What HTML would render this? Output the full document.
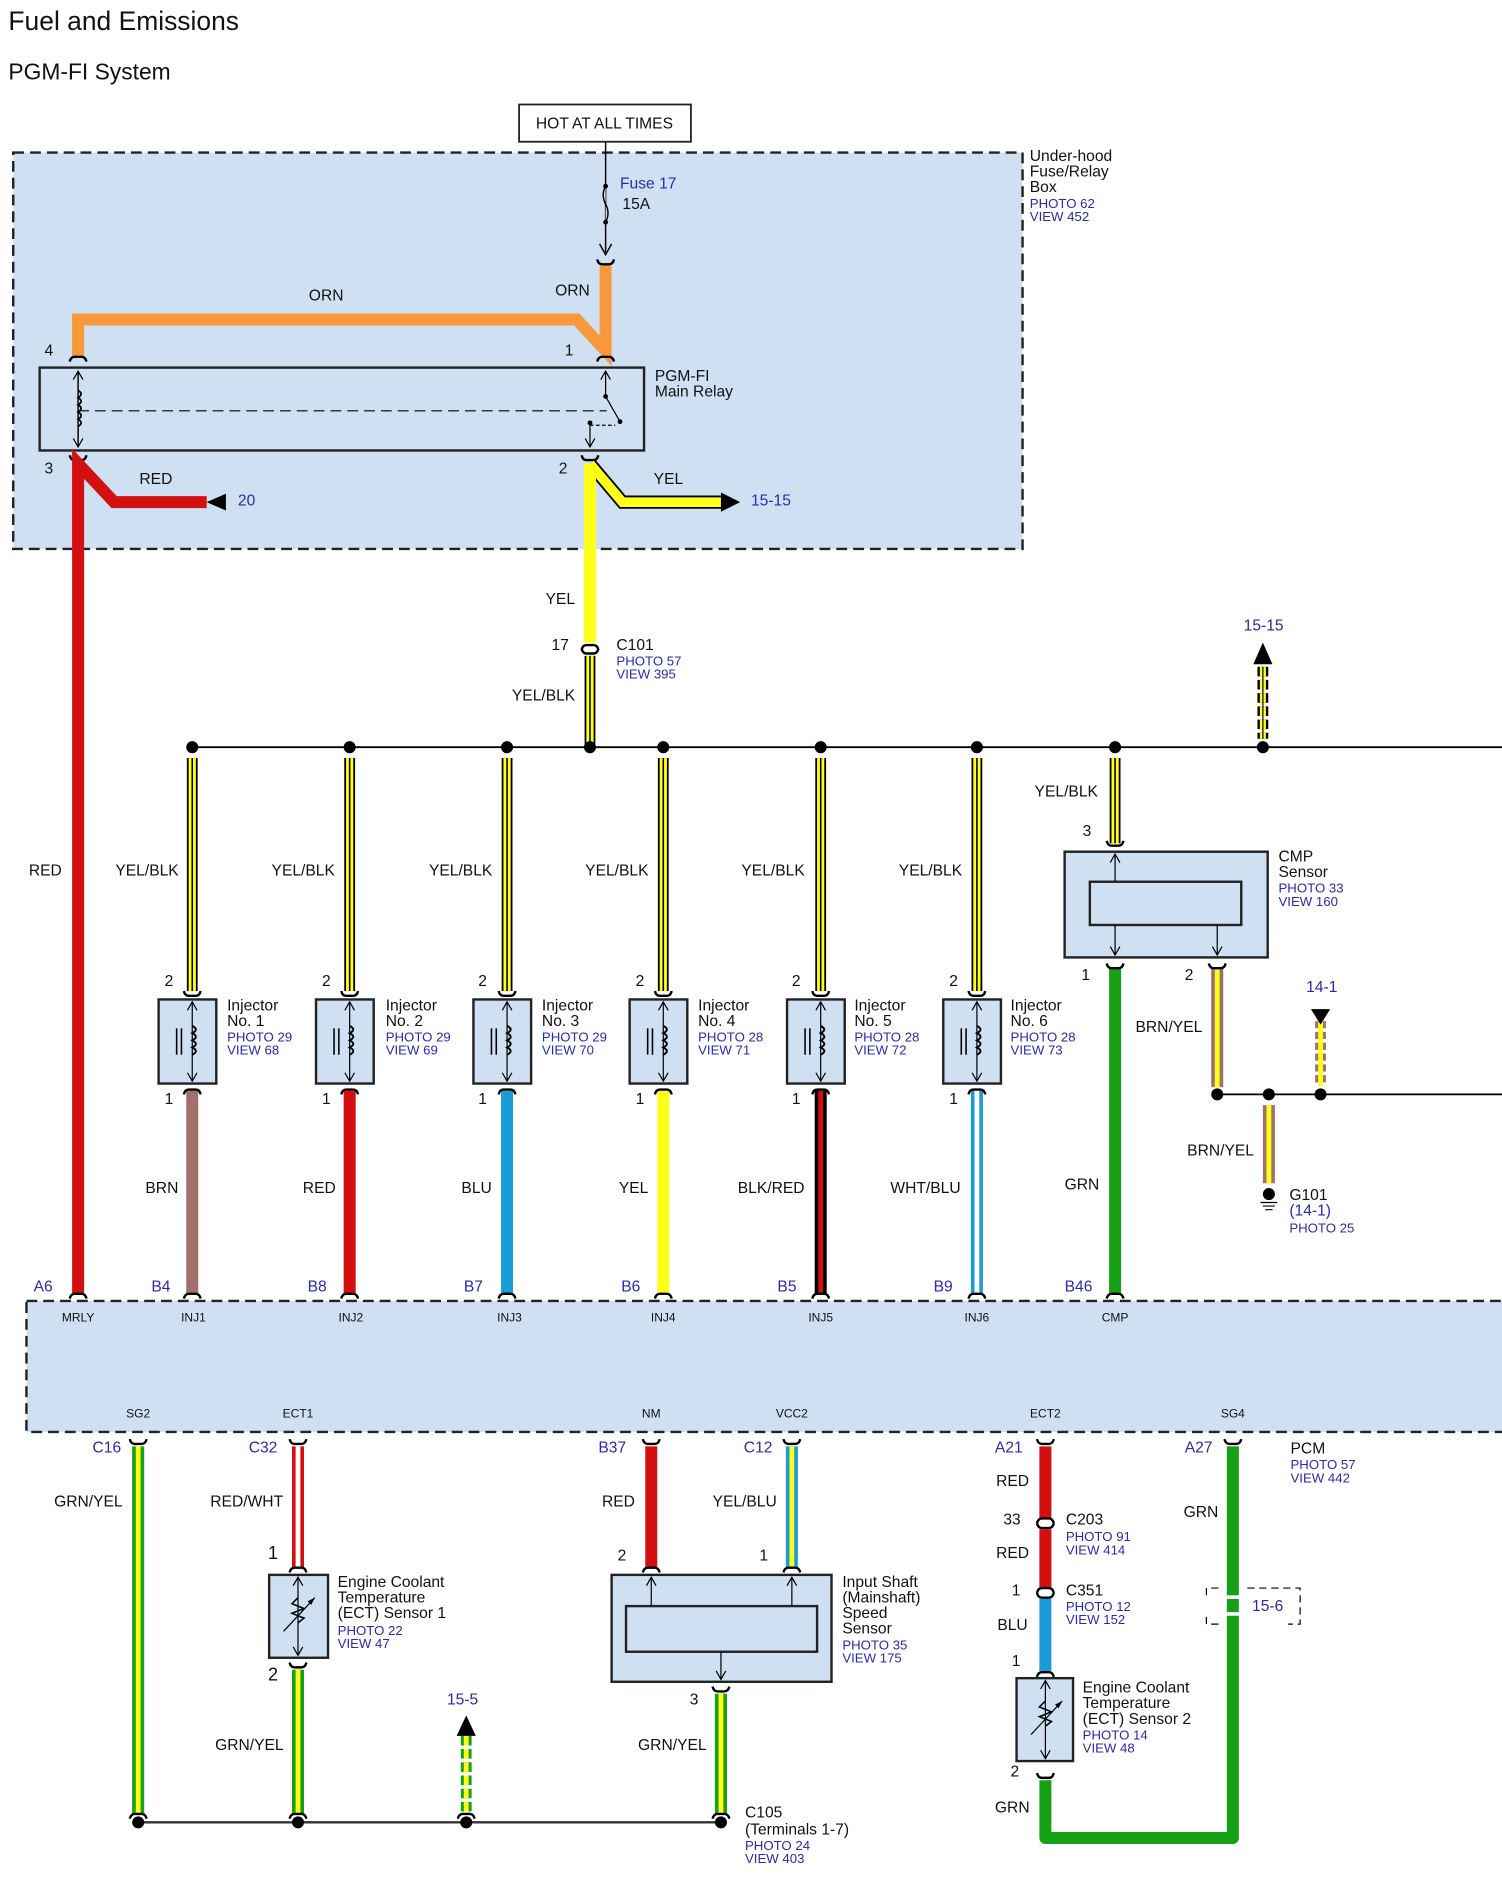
<!DOCTYPE html>
<html><head><meta charset="utf-8"><style>
html,body{margin:0;padding:0;background:#fff;}
svg{display:block;}
text{font-family:"Liberation Sans",Arial,sans-serif;font-size:13px;fill:#111;}
.b{fill:#2a2ab0;font-size:11px;}
.bl{fill:#2a2ab0;font-size:13px;}
.s{font-size:10px;}
.cu{fill:none;stroke:#000;stroke-width:2;}
</style></head><body>
<svg width="1502" height="1886" viewBox="0 0 1250 1570" preserveAspectRatio="none" xmlns="http://www.w3.org/2000/svg">
<defs>
<path id="cd" class="cu" d="M-7,4 Q-6,0 -3,0 H3 Q6,0 7,4"/>
<path id="cu" class="cu" d="M-7,-4 Q-6,0 -3,0 H3 Q6,0 7,-4"/>
<g id="injbox">
<path class="cu" d="M-7,-7 Q-6,-3 -3,-3 H3 Q6,-3 7,-7"/>
<rect x="-28" y="0" width="48" height="70" fill="#cfe0f2" stroke="#222" stroke-width="2"/>
<line x1="0" y1="2" x2="0" y2="68" stroke="#000"/>
<path d="M-4,9 L0,2 L4,9 M-4,61 L0,68 L4,61" fill="none" stroke="#000"/>
<path d="M0,22 q6,3 0,6 q6,3 0,6 q6,3 0,6 q6,3 0,6" fill="none" stroke="#000" stroke-width="1.6"/>
<line x1="-13" y1="24" x2="-13" y2="46" stroke="#000" stroke-width="1.3"/><line x1="-9" y1="24" x2="-9" y2="46" stroke="#000" stroke-width="1.3"/>
<path class="cu" d="M-7,79 Q-6,75 -3,75 H3 Q6,75 7,79"/>
</g>
</defs>
<text x="7" y="25" style="font-size:22px">Fuel and Emissions</text>
<text x="7" y="66" style="font-size:19px">PGM-FI System</text>

<rect x="11" y="127" width="840" height="330" fill="#cfe0f2" stroke="#222" stroke-width="2" stroke-dasharray="9,5"/>
<text x="857" y="134">Under-hood</text><text x="857" y="147">Fuse/Relay</text><text x="857" y="160">Box</text>
<text x="857" y="173" class="b">PHOTO 62</text><text x="857" y="184" class="b">VIEW 452</text>
<rect x="432" y="87" width="143" height="31" fill="#fff" stroke="#222" stroke-width="1.5"/>
<text x="446" y="107" style="font-size:13px">HOT AT ALL TIMES</text>
<line x1="504" y1="118" x2="504" y2="210" stroke="#000" stroke-width="1.2"/>
<path d="M504,155 q-4,7 0,15 q4,7 0,15" fill="#cfe0f2" stroke="#000" stroke-width="1.2"/>
<circle cx="504" cy="155" r="2" fill="#000"/><circle cx="504" cy="185" r="2" fill="#000"/>
<path d="M499,203 L504,212 L509,203" fill="none" stroke="#000" stroke-width="1.2"/>
<text x="516" y="157" class="bl">Fuse 17</text><text x="518" y="174">15A</text>
<path d="M65,297 V266 H480 L504,292 V221" fill="none" stroke="#f7993a" stroke-width="10"/>
<use href="#cu" x="504" y="220"/><use href="#cd" x="504" y="297"/><use href="#cd" x="65" y="297"/>
<text x="257" y="250">ORN</text><text x="462" y="246">ORN</text>
<text x="37" y="296">4</text><text x="470" y="296">1</text>
<rect x="33" y="306" width="503" height="69" fill="#cfe0f2" stroke="#222" stroke-width="2"/>
<text x="545" y="317">PGM-FI</text><text x="545" y="330">Main Relay</text>
<line x1="65" y1="309" x2="65" y2="372" stroke="#000" stroke-width="1.2"/>
<path d="M61,316 L65,309 L69,316 M61,365 L65,372 L69,365" fill="none" stroke="#000"/>
<path d="M65,325 q5,3 0,6 q5,3 0,6 q5,3 0,6 q5,3 0,6 q5,3 0,6" fill="none" stroke="#000" stroke-width="1.5"/>
<line x1="65" y1="342" x2="505" y2="342" stroke="#000" stroke-dasharray="9,5"/>
<line x1="504" y1="309" x2="504" y2="330" stroke="#000"/><path d="M500,316 L504,309 L508,316" fill="none" stroke="#000"/>
<circle cx="504" cy="330" r="2" fill="#000"/><line x1="504" y1="330" x2="516" y2="351" stroke="#000"/>
<circle cx="516" cy="351" r="2" fill="#000"/><circle cx="491" cy="352" r="2" fill="#000"/>
<line x1="491" y1="352" x2="491" y2="372" stroke="#000"/><path d="M487,365 L491,372 L495,365" fill="none" stroke="#000"/>
<path d="M491,354 H512" stroke="#000" stroke-dasharray="3,2"/>
<use href="#cu" x="65" y="383"/><use href="#cu" x="491" y="383"/>
<text x="37" y="394">3</text><text x="465" y="394">2</text>
<path d="M65,1077 V386 L95,418 H172" fill="none" stroke="#d40f0f" stroke-width="10"/>
<polygon points="172,411 172,425 188,418" fill="#000" transform="rotate(180 180 418)"/>
<text x="116" y="403">RED</text><text x="198" y="421" class="bl">20</text>
<path d="M491,386 L518,418 H600" fill="none" stroke="#000" stroke-width="11"/>
<path d="M491,386 L518,418 H600" fill="none" stroke="#ffff1a" stroke-width="8"/>
<line x1="491" y1="386" x2="491" y2="535" stroke="#ffff1a" stroke-width="10"/>
<polygon points="600,410 600,426 616,418" fill="#000"/>
<text x="544" y="403">YEL</text><text x="625" y="421" class="bl">15-15</text>
<text x="454" y="503">YEL</text>
<use href="#cd" x="491" y="537"/><use href="#cu" x="491" y="544"/>
<text x="459" y="541">17</text><text x="513" y="541">C101</text>
<text x="513" y="554" class="b">PHOTO 57</text><text x="513" y="565" class="b">VIEW 395</text>
<line x1="491" y1="546" x2="491" y2="620" stroke="#000" stroke-width="9"/>
<line x1="491" y1="546" x2="491" y2="620" stroke="#ffff1a" stroke-width="6"/>
<line x1="491" y1="546" x2="491" y2="620" stroke="#000" stroke-width="1.3"/>
<text x="426" y="583">YEL/BLK</text>
<line x1="160" y1="622" x2="1250" y2="622" stroke="#000" stroke-width="1.5"/>
<g fill="#000"><circle cx="160" cy="622" r="5"/><circle cx="291" cy="622" r="5"/><circle cx="422" cy="622" r="5"/><circle cx="491" cy="622" r="5"/><circle cx="552" cy="622" r="5"/><circle cx="683" cy="622" r="5"/><circle cx="813" cy="622" r="5"/><circle cx="928" cy="622" r="5"/><circle cx="1051" cy="622" r="5"/></g>
<line x1="1051" y1="555" x2="1051" y2="615" stroke="#000" stroke-width="9" stroke-dasharray="8,3"/>
<line x1="1051" y1="555" x2="1051" y2="615" stroke="#ffff1a" stroke-width="5" stroke-dasharray="8,3"/>
<line x1="1051" y1="555" x2="1051" y2="615" stroke="#000" stroke-width="1"/>
<polygon points="1043,553 1059,553 1051,535" fill="#000"/>
<text x="1035" y="525" class="bl">15-15</text>

<g>
<g stroke="#000" stroke-width="9"><line x1="160" y1="631" x2="160" y2="825"/><line x1="291" y1="631" x2="291" y2="825"/><line x1="422" y1="631" x2="422" y2="825"/><line x1="552" y1="631" x2="552" y2="825"/><line x1="683" y1="631" x2="683" y2="825"/><line x1="813" y1="631" x2="813" y2="825"/><line x1="928" y1="631" x2="928" y2="702"/></g>
<g stroke="#ffff1a" stroke-width="6"><line x1="160" y1="631" x2="160" y2="825"/><line x1="291" y1="631" x2="291" y2="825"/><line x1="422" y1="631" x2="422" y2="825"/><line x1="552" y1="631" x2="552" y2="825"/><line x1="683" y1="631" x2="683" y2="825"/><line x1="813" y1="631" x2="813" y2="825"/><line x1="928" y1="631" x2="928" y2="702"/></g>
<g stroke="#000" stroke-width="1.3"><line x1="160" y1="631" x2="160" y2="825"/><line x1="291" y1="631" x2="291" y2="825"/><line x1="422" y1="631" x2="422" y2="825"/><line x1="552" y1="631" x2="552" y2="825"/><line x1="683" y1="631" x2="683" y2="825"/><line x1="813" y1="631" x2="813" y2="825"/><line x1="928" y1="631" x2="928" y2="702"/></g>
</g>
<line x1="160" y1="908" x2="160" y2="1077" stroke="#a0716b" stroke-width="10"/>
<line x1="291" y1="908" x2="291" y2="1077" stroke="#d40f0f" stroke-width="10"/>
<line x1="422" y1="908" x2="422" y2="1077" stroke="#1a9ad6" stroke-width="10"/>
<line x1="552" y1="908" x2="552" y2="1077" stroke="#ffff1a" stroke-width="10"/>
<line x1="683" y1="908" x2="683" y2="1077" stroke="#000" stroke-width="10"/>
<line x1="683" y1="908" x2="683" y2="1077" stroke="#d40f0f" stroke-width="4"/>
<line x1="813" y1="908" x2="813" y2="1077" stroke="#1a9ad6" stroke-width="10"/>
<line x1="813" y1="908" x2="813" y2="1077" stroke="#fff" stroke-width="4"/>
<use href="#injbox" x="160" y="832"/><use href="#injbox" x="291" y="832"/><use href="#injbox" x="422" y="832"/>
<use href="#injbox" x="552" y="832"/><use href="#injbox" x="683" y="832"/><use href="#injbox" x="813" y="832"/>
<text x="137" y="821">2</text><text x="268" y="821">2</text><text x="398" y="821">2</text><text x="529" y="821">2</text><text x="659" y="821">2</text><text x="790" y="821">2</text>
<text x="137" y="919">1</text><text x="268" y="919">1</text><text x="398" y="919">1</text><text x="529" y="919">1</text><text x="659" y="919">1</text><text x="790" y="919">1</text>
<text x="96" y="729">YEL/BLK</text><text x="226" y="729">YEL/BLK</text><text x="357" y="729">YEL/BLK</text><text x="487" y="729">YEL/BLK</text><text x="617" y="729">YEL/BLK</text><text x="748" y="729">YEL/BLK</text>
<text x="24" y="729">RED</text>
<g>
<text x="189" y="841">Injector</text><text x="189" y="854">No. 1</text><text x="189" y="867" class="b">PHOTO 29</text><text x="189" y="878" class="b">VIEW 68</text>
<text x="321" y="841">Injector</text><text x="321" y="854">No. 2</text><text x="321" y="867" class="b">PHOTO 29</text><text x="321" y="878" class="b">VIEW 69</text>
<text x="451" y="841">Injector</text><text x="451" y="854">No. 3</text><text x="451" y="867" class="b">PHOTO 29</text><text x="451" y="878" class="b">VIEW 70</text>
<text x="581" y="841">Injector</text><text x="581" y="854">No. 4</text><text x="581" y="867" class="b">PHOTO 28</text><text x="581" y="878" class="b">VIEW 71</text>
<text x="711" y="841">Injector</text><text x="711" y="854">No. 5</text><text x="711" y="867" class="b">PHOTO 28</text><text x="711" y="878" class="b">VIEW 72</text>
<text x="841" y="841">Injector</text><text x="841" y="854">No. 6</text><text x="841" y="867" class="b">PHOTO 28</text><text x="841" y="878" class="b">VIEW 73</text>
</g>
<text x="121" y="993">BRN</text><text x="252" y="993">RED</text><text x="384" y="993">BLU</text><text x="515" y="993">YEL</text><text x="614" y="993">BLK/RED</text><text x="741" y="993">WHT/BLU</text>

<text x="861" y="663">YEL/BLK</text><text x="901" y="696">3</text>
<path class="cu" d="M921,700 Q922,704 925,704 H931 Q934,704 935,700"/>
<rect x="886" y="709" width="169" height="88" fill="#cfe0f2" stroke="#222" stroke-width="2"/>
<rect x="907" y="734" width="126" height="36" fill="#cfe0f2" stroke="#222" stroke-width="2"/>
<line x1="928" y1="711" x2="928" y2="734" stroke="#000"/><path d="M924,718 L928,711 L932,718" fill="none" stroke="#000"/>
<line x1="928" y1="770" x2="928" y2="795" stroke="#000"/><path d="M924,788 L928,795 L932,788" fill="none" stroke="#000"/>
<line x1="1013" y1="770" x2="1013" y2="795" stroke="#000"/><path d="M1009,788 L1013,795 L1017,788" fill="none" stroke="#000"/>
<text x="1064" y="717">CMP</text><text x="1064" y="730">Sensor</text><text x="1064" y="743" class="b">PHOTO 33</text><text x="1064" y="754" class="b">VIEW 160</text>
<text x="900" y="816">1</text><text x="986" y="816">2</text>
<line x1="928" y1="806" x2="928" y2="1077" stroke="#15a015" stroke-width="10"/>
<use href="#cu" x="928" y="806"/>
<line x1="1013" y1="806" x2="1013" y2="905" stroke="#a0716b" stroke-width="10"/>
<line x1="1013" y1="806" x2="1013" y2="905" stroke="#ffff1a" stroke-width="4"/>
<use href="#cu" x="1013" y="806"/>
<text x="945" y="859">BRN/YEL</text>
<line x1="1013" y1="911" x2="1250" y2="911" stroke="#000" stroke-width="1.5"/>
<circle cx="1013" cy="911" r="5"/><circle cx="1056" cy="911" r="5"/><circle cx="1099" cy="911" r="5"/>
<line x1="1099" y1="850" x2="1099" y2="904" stroke="#a0716b" stroke-width="9" stroke-dasharray="6,3"/>
<line x1="1099" y1="850" x2="1099" y2="904" stroke="#ffff1a" stroke-width="4"/>
<polygon points="1091,840 1107,840 1099,853" fill="#000"/>
<text x="1087" y="826" class="bl">14-1</text>
<line x1="1056" y1="920" x2="1056" y2="985" stroke="#a0716b" stroke-width="10"/>
<line x1="1056" y1="920" x2="1056" y2="985" stroke="#ffff1a" stroke-width="4"/>
<text x="988" y="962">BRN/YEL</text>
<circle cx="1056" cy="994" r="5" fill="#000"/>
<path d="M1049,1001 H1063 M1051,1004 H1061 M1053,1007 H1059" stroke="#000"/>
<text x="1073" y="999">G101</text><text x="1073" y="1012" class="bl">(14-1)</text><text x="1073" y="1026" class="b">PHOTO 25</text>
<text x="886" y="990">GRN</text>

<rect x="22" y="1083" width="1240" height="109" fill="#cfe0f2" stroke="#222" stroke-width="2" stroke-dasharray="9,5"/>
<g>
<use href="#cd" x="65" y="1077"/><use href="#cd" x="160" y="1077"/><use href="#cd" x="291" y="1077"/><use href="#cd" x="422" y="1077"/><use href="#cd" x="552" y="1077"/><use href="#cd" x="683" y="1077"/><use href="#cd" x="813" y="1077"/><use href="#cd" x="928" y="1077"/>
</g>
<text x="28" y="1075" class="bl">A6</text><text x="126" y="1075" class="bl">B4</text><text x="256" y="1075" class="bl">B8</text><text x="386" y="1075" class="bl">B7</text><text x="517" y="1075" class="bl">B6</text><text x="647" y="1075" class="bl">B5</text><text x="777" y="1075" class="bl">B9</text><text x="886" y="1075" class="bl">B46</text>
<g class="s" text-anchor="middle">
<text x="65" y="1100" class="s">MRLY</text><text x="161" y="1100" class="s">INJ1</text><text x="292" y="1100" class="s">INJ2</text><text x="424" y="1100" class="s">INJ3</text><text x="552" y="1100" class="s">INJ4</text><text x="683" y="1100" class="s">INJ5</text><text x="813" y="1100" class="s">INJ6</text><text x="928" y="1100" class="s">CMP</text>
<text x="115" y="1180" class="s">SG2</text><text x="248" y="1180" class="s">ECT1</text><text x="542" y="1180" class="s">NM</text><text x="659" y="1180" class="s">VCC2</text><text x="870" y="1180" class="s">ECT2</text><text x="1026" y="1180" class="s">SG4</text>
</g>
<g>
<line x1="115" y1="1204" x2="115" y2="1510" stroke="#15a015" stroke-width="10"/><line x1="115" y1="1204" x2="115" y2="1510" stroke="#ffff1a" stroke-width="4"/>
<line x1="248" y1="1204" x2="248" y2="1305" stroke="#d40f0f" stroke-width="10"/><line x1="248" y1="1204" x2="248" y2="1305" stroke="#fff" stroke-width="4"/>
<line x1="248" y1="1390" x2="248" y2="1510" stroke="#15a015" stroke-width="10"/><line x1="248" y1="1390" x2="248" y2="1510" stroke="#ffff1a" stroke-width="4"/>
<line x1="542" y1="1204" x2="542" y2="1305" stroke="#d40f0f" stroke-width="10"/>
<line x1="659" y1="1204" x2="659" y2="1305" stroke="#1a9ad6" stroke-width="10"/><line x1="659" y1="1204" x2="659" y2="1305" stroke="#ffff1a" stroke-width="4"/>
<line x1="600" y1="1410" x2="600" y2="1510" stroke="#15a015" stroke-width="10"/><line x1="600" y1="1410" x2="600" y2="1510" stroke="#ffff1a" stroke-width="4"/>
<line x1="388" y1="1445" x2="388" y2="1510" stroke="#15a015" stroke-width="9" stroke-dasharray="8,3"/><line x1="388" y1="1445" x2="388" y2="1510" stroke="#ffff1a" stroke-width="4" stroke-dasharray="8,3"/>
<polygon points="380,1445 396,1445 388,1428" fill="#000"/>
<line x1="870" y1="1204" x2="870" y2="1264" stroke="#d40f0f" stroke-width="10"/>
<line x1="870" y1="1273" x2="870" y2="1322" stroke="#d40f0f" stroke-width="10"/>
<line x1="870" y1="1331" x2="870" y2="1391" stroke="#1a9ad6" stroke-width="10"/>
<path d="M870,1482 V1530 H1026 V1204" fill="none" stroke="#15a015" stroke-width="10" stroke-linejoin="round"/>
<rect x="1017" y="1328" width="18" height="3" fill="#fff"/><rect x="1017" y="1342" width="18" height="3" fill="#fff"/>
</g>
<g>
<use href="#cu" x="115" y="1202"/><use href="#cu" x="248" y="1202"/><use href="#cu" x="542" y="1202"/><use href="#cu" x="659" y="1202"/><use href="#cu" x="870" y="1202"/><use href="#cu" x="1026" y="1202"/>
<use href="#cd" x="248" y="1305"/><use href="#cd" x="542" y="1305"/><use href="#cd" x="659" y="1305"/>
<use href="#cu" x="248" y="1388"/><use href="#cu" x="600" y="1408"/><use href="#cu" x="870" y="1480"/>
<use href="#cd" x="870" y="1264"/><use href="#cu" x="870" y="1272"/><use href="#cd" x="870" y="1322"/><use href="#cu" x="870" y="1330"/><use href="#cd" x="870" y="1392"/>
<use href="#cd" x="115" y="1510"/><use href="#cd" x="248" y="1510"/><use href="#cd" x="388" y="1510"/><use href="#cd" x="600" y="1510"/>
</g>
<line x1="115" y1="1517" x2="600" y2="1517" stroke="#333" stroke-width="2"/>
<circle cx="115" cy="1517" r="5"/><circle cx="248" cy="1517" r="5"/><circle cx="388" cy="1517" r="5"/><circle cx="600" cy="1517" r="5"/>
<text x="77" y="1209" class="bl">C16</text><text x="207" y="1209" class="bl">C32</text><text x="498" y="1209" class="bl">B37</text><text x="619" y="1209" class="bl">C12</text><text x="828" y="1209" class="bl">A21</text><text x="986" y="1209" class="bl">A27</text>
<text x="45" y="1254">GRN/YEL</text><text x="175" y="1254">RED/WHT</text><text x="501" y="1254">RED</text><text x="593" y="1254">YEL/BLU</text>
<text x="223" y="1298" style="font-size:15px">1</text><text x="514" y="1299">2</text><text x="632" y="1299">1</text>
<rect x="224" y="1311" width="49" height="69" fill="#cfe0f2" stroke="#222" stroke-width="2"/>
<line x1="248" y1="1313" x2="248" y2="1378" stroke="#000"/><path d="M244,1320 L248,1313 L252,1320 M244,1371 L248,1378 L252,1371" fill="none" stroke="#000"/>
<path d="M248,1330 l-5,5 l10,4 l-10,4 l10,4 l-5,4" fill="none" stroke="#000" stroke-width="1.3"/>
<line x1="236" y1="1358" x2="262" y2="1330" stroke="#000"/><polygon points="262,1330 256,1333 259,1336" fill="#000"/>
<text x="281" y="1321">Engine Coolant</text><text x="281" y="1334">Temperature</text><text x="281" y="1347">(ECT) Sensor 1</text><text x="281" y="1361" class="b">PHOTO 22</text><text x="281" y="1372" class="b">VIEW 47</text>
<text x="223" y="1399" style="font-size:15px">2</text>
<text x="179" y="1457">GRN/YEL</text>
<text x="372" y="1419" class="bl">15-5</text>
<rect x="509" y="1311" width="183" height="89" fill="#cfe0f2" stroke="#222" stroke-width="2"/>
<rect x="521" y="1337" width="159" height="38" fill="#cfe0f2" stroke="#222" stroke-width="2"/>
<line x1="542" y1="1313" x2="542" y2="1337" stroke="#000"/><path d="M538,1320 L542,1313 L546,1320" fill="none" stroke="#000"/>
<line x1="659" y1="1313" x2="659" y2="1337" stroke="#000"/><path d="M655,1320 L659,1313 L663,1320" fill="none" stroke="#000"/>
<line x1="600" y1="1375" x2="600" y2="1398" stroke="#000"/><path d="M596,1391 L600,1398 L604,1391" fill="none" stroke="#000"/>
<text x="701" y="1321">Input Shaft</text><text x="701" y="1334">(Mainshaft)</text><text x="701" y="1347">Speed</text><text x="701" y="1360">Sensor</text><text x="701" y="1373" class="b">PHOTO 35</text><text x="701" y="1384" class="b">VIEW 175</text>
<text x="574" y="1419">3</text><text x="531" y="1457">GRN/YEL</text>
<text x="620" y="1513">C105</text><text x="620" y="1527">(Terminals 1-7)</text><text x="620" y="1540" class="b">PHOTO 24</text><text x="620" y="1551" class="b">VIEW 403</text>
<text x="829" y="1237">RED</text><text x="835" y="1269">33</text><text x="887" y="1269">C203</text><text x="887" y="1283" class="b">PHOTO 91</text><text x="887" y="1294" class="b">VIEW 414</text>
<text x="829" y="1297">RED</text><text x="842" y="1328">1</text><text x="887" y="1328">C351</text><text x="887" y="1341" class="b">PHOTO 12</text><text x="887" y="1352" class="b">VIEW 152</text>
<text x="830" y="1357">BLU</text><text x="842" y="1387">1</text>
<rect x="846" y="1397" width="47" height="69" fill="#cfe0f2" stroke="#222" stroke-width="2"/>
<line x1="870" y1="1399" x2="870" y2="1464" stroke="#000"/><path d="M866,1406 L870,1399 L874,1406 M866,1457 L870,1464 L874,1457" fill="none" stroke="#000"/>
<path d="M870,1416 l-5,5 l10,4 l-10,4 l10,4 l-5,4" fill="none" stroke="#000" stroke-width="1.3"/>
<line x1="858" y1="1444" x2="884" y2="1416" stroke="#000"/><polygon points="884,1416 878,1419 881,1422" fill="#000"/>
<text x="901" y="1409">Engine Coolant</text><text x="901" y="1422">Temperature</text><text x="901" y="1435">(ECT) Sensor 2</text><text x="901" y="1448" class="b">PHOTO 14</text><text x="901" y="1459" class="b">VIEW 48</text>
<text x="841" y="1479">2</text><text x="828" y="1509">GRN</text>
<text x="985" y="1263">GRN</text>
<path d="M1004,1328 V1322 H1014 M1038,1322 H1082 V1352 H1072 M1014,1352 H1004 V1346" fill="none" stroke="#000" stroke-dasharray="6,4"/>
<text x="1042" y="1341" class="bl">15-6</text>
<text x="1074" y="1210">PCM</text><text x="1074" y="1223" class="b">PHOTO 57</text><text x="1074" y="1234" class="b">VIEW 442</text>
</svg>
</body></html>
